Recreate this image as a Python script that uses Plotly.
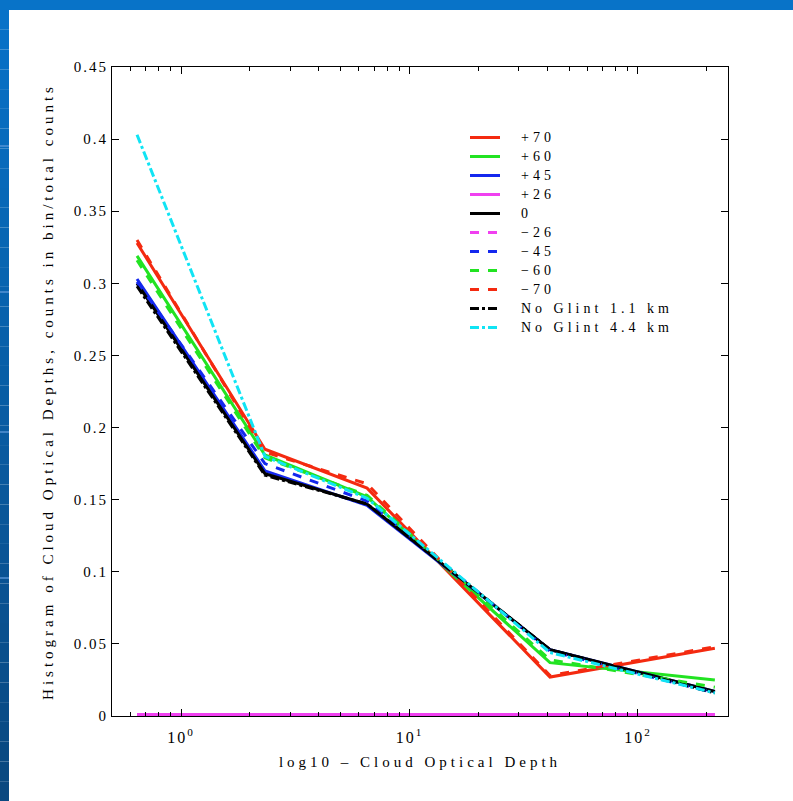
import plotly.graph_objects as go

# Cloud optical depth bin positions (log axis)
tau = [0.642, 2.33, 6.52, 41.2, 217]

# Histogram fractions (counts in bin / total counts) per latitude band
plus70 = [0.328, 0.185, 0.158, 0.027, 0.047]
plus60 = [0.319, 0.181, 0.152, 0.037, 0.025]
plus45 = [0.303, 0.170, 0.146, 0.046, 0.017]
plus26 = [0.001, 0.001, 0.001, 0.001, 0.001]
zero = [0.300, 0.168, 0.147, 0.046, 0.017]
minus26 = [0.001, 0.001, 0.001, 0.001, 0.001]
minus45 = [0.301, 0.175, 0.149, 0.045, 0.016]
minus60 = [0.316, 0.179, 0.153, 0.039, 0.020]
minus70 = [0.330, 0.183, 0.161, 0.028, 0.048]
noglint_11 = [0.298, 0.167, 0.147, 0.046, 0.016]
noglint_44 = [0.403, 0.180, 0.151, 0.044, 0.016]

names = ["+70", "+60", "+45", "+26", "0", "\u221226", "\u221245", "\u221260", "\u221270",
         "No Glint 1.1 km", "No Glint 4.4 km"]
series = [plus70, plus60, plus45, plus26, zero, minus26, minus45, minus60, minus70,
          noglint_11, noglint_44]

# log-axis tick positions
major_ticks = [1, 10, 100]
major_labels = ["10<sup>0</sup>", "10<sup>1</sup>", "10<sup>2</sup>"]
minor_ticks = [0.6, 0.7, 0.8, 0.9, 2, 3, 4, 5, 6, 7, 8, 9,
               20, 30, 40, 50, 60, 70, 80, 90, 200]

RED, GREEN, BLUE, MAGENTA, BLACK, CYAN = "#f42a10", "#22e322", "#1428ee", "#f040f0", "#000000", "#10e4f4"
colors = [RED, GREEN, BLUE, MAGENTA, BLACK, MAGENTA, BLUE, GREEN, RED, BLACK, CYAN]
dashes = ["solid"] * 5 + ["dash"] * 4 + ["dashdot"] * 2

W, H = 793, 801
L, R, T, B = 112, 728, 67, 716  # plot area edges in pixels

fig = go.Figure()
for name, ys, c, d in zip(names, series, colors, dashes):
    fig.add_trace(go.Scatter(x=tau, y=ys, mode="lines", name=name,
                             line=dict(color=c, width=3, dash=d)))


def px(xp):
    return (xp - L) / (R - L)


def py(yp):
    return (B - yp) / (B - T)


# slide frame: top band and shaded left band
shapes = [dict(type="rect", xref="paper", yref="paper", x0=px(0), x1=px(W), y0=py(10), y1=py(0),
               fillcolor="#0873c8", line=dict(width=0), layer="below")]
n = 40
for i in range(n):
    y0p = 10 + (H - 10) * i / n
    y1p = 10 + (H - 10) * (i + 1) / n
    t = i / (n - 1)
    r = int(8 + (10 - 8) * t)
    g = int(114 + (72 - 114) * t)
    b = int(200 + (128 - 200) * t)
    shapes.append(dict(type="rect", xref="paper", yref="paper", x0=px(0), x1=px(9),
                       y0=py(y1p), y1=py(y0p), fillcolor=f"rgb({r},{g},{b})",
                       line=dict(width=0), layer="below"))
for yl in [146, 292, 432, 578]:
    shapes.append(dict(type="line", xref="paper", yref="paper", x0=px(0), x1=px(9),
                       y0=py(yl), y1=py(yl), line=dict(color="rgba(90,150,215,0.7)", width=2)))

serif = "Liberation Serif, Times New Roman, serif"

fig.update_layout(
    width=W, height=H,
    margin=dict(l=L, r=W - R, t=T, b=H - B, pad=0),
    paper_bgcolor="white", plot_bgcolor="white",
    font=dict(family=serif, size=15, color="black"),
    shapes=shapes,
    showlegend=True,
    legend=dict(x=px(465), y=py(123), xanchor="left", yanchor="top",
                bgcolor="rgba(0,0,0,0)", borderwidth=0,
                font=dict(family=serif, size=12, color="black"),
                itemwidth=30, tracegroupgap=0),
)

fig.update_xaxes(
    type="log", range=[-0.302, 2.394],
    tickvals=major_ticks, ticktext=major_labels,
    ticks="inside", ticklen=7, tickcolor="black", tickwidth=1,
    showline=True, linecolor="black", linewidth=1, mirror="ticks",
    showgrid=False, zeroline=False,
    minor=dict(tickmode="array", tickvals=minor_ticks, ticks="inside", ticklen=4,
               tickcolor="black", showgrid=False),
    tickfont=dict(family=serif, size=16),
    ticklabelstandoff=7,
    title=dict(text="log10 \u2013 Cloud Optical Depth", font=dict(family=serif, size=15), standoff=11),
)
fig.update_yaxes(
    range=[0, 0.45], tick0=0, dtick=0.05,
    ticks="inside", ticklen=7, tickcolor="black", tickwidth=1,
    showline=True, linecolor="black", linewidth=1, mirror="ticks",
    showgrid=False, zeroline=False,
    tickfont=dict(family=serif, size=15),
    title=dict(text="Histogram of Cloud Optical Depths, counts in bin/total counts",
               font=dict(family=serif, size=15), standoff=24),
)

# wide letter tracking for all chart text; legend entries keep compact rows
css = (".xtick text,.ytick text{letter-spacing:2px}"
       ".legendtext{letter-spacing:4px;font-size:14px !important;transform:translateX(16px)}"
       ".legend .scrollbox{clip-path:none !important}"
       ".g-xtitle text,.g-ytitle text{letter-spacing:4px}")
post = ("var s=document.createElement('style');s.textContent='" + css + "';"
        "document.head.appendChild(s);")

fig.write_html("out.html", post_script=post)
